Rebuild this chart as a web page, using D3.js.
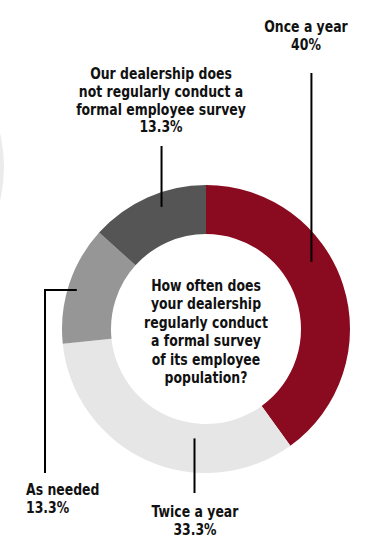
<!DOCTYPE html>
<html lang="en">
<head>
<meta charset="UTF-8">
<title>Employee survey frequency</title>
<script src="https://cdn.jsdelivr.net/npm/d3@7"></script>
<style>
  html, body { margin: 0; padding: 0; background: #fff; }
  svg text {
    font-family: "DejaVu Sans Condensed", "DejaVu Sans", sans-serif;
    font-weight: bold;
    fill: #111;
  }
</style>
</head>
<body>
<svg id="chart"></svg>
<script>
// data
const categories = ['Once a year', 'Twice a year', 'As needed', 'Our dealership does not regularly conduct a formal employee survey'];
const values = [40, 33.3, 13.3, 13.3];
const valueLabels = ['40%', '33.3%', '13.3%', '13.3%'];
const labelLines = [
  ['Once a year'],
  ['Twice a year'],
  ['As needed'],
  ['Our dealership does', 'not regularly conduct a', 'formal employee survey']
];
const question = ['How often does', 'your dealership', 'regularly conduct', 'a formal survey', 'of its employee', 'population?'];

const colors = ['#8a0b20', '#e6e6e6', '#969696', '#555555'];

const W = 375, H = 550;
const cx = 206, cy = 329;
const outerR = 144, innerR = 95;
const squeeze = 0.84;   // condensed look for the labels

const svg = d3.select('#chart').attr('width', W).attr('height', H);

// faint decorative circle edge on the left
svg.append('circle')
  .attr('cx', -142).attr('cy', 167).attr('r', 146)
  .attr('fill', '#ebebeb');

const g = svg.append('g').attr('transform', `translate(${cx},${cy})`);

const pie = d3.pie().sort(null).value(d => d)(values);
const arc = d3.arc().innerRadius(innerR).outerRadius(outerR);

g.selectAll('path.slice')
  .data(pie)
  .enter().append('path')
  .attr('class', 'slice')
  .attr('d', arc)
  .attr('fill', (d, i) => colors[i]);

function block(parent, x, y, lines, anchor, lh) {
  const t = parent.append('text')
    .attr('transform', `translate(${x},${y}) scale(${squeeze},1)`)
    .attr('text-anchor', anchor)
    .style('font-size', '16.5px');
  t.selectAll('tspan')
    .data(lines)
    .enter().append('tspan')
    .attr('x', 0)
    .attr('y', (d, i) => i * lh)
    .text(d => d);
}

// centre question
block(g, 0, -38, question, 'middle', 18.4);

// leader lines
const polar = (deg, r) => [r * Math.sin(deg * Math.PI / 180), -r * Math.cos(deg * Math.PI / 180)];
const leaders = [
  { ang: 57.5, r: 125, to: p => [[p[0], p[1]], [p[0], -256]] },
  { ang: 186, r: 110, to: p => [[p[0], p[1]], [p[0], 164]] },
  { ang: 286.8, r: 135, to: p => [[p[0], p[1]], [-161, p[1]], [-161, 144]] },
  { ang: 340, r: 130, to: p => [[p[0], p[1]], [p[0], -183]] }
];
const line = d3.line();
g.selectAll('path.leader')
  .data(leaders)
  .enter().append('path')
  .attr('class', 'leader')
  .attr('d', d => line(d.to(polar(d.ang, d.r))))
  .attr('fill', 'none')
  .attr('stroke', '#000')
  .attr('stroke-width', 2);

// outer labels
const labelPos = [
  { x: 306, y: 32, anchor: 'middle' },
  { x: 195, y: 517, anchor: 'middle' },
  { x: 26, y: 495, anchor: 'start' },
  { x: 161, y: 79, anchor: 'middle' }
];
labelLines.forEach((lines, i) => {
  const p = labelPos[i];
  block(svg, p.x, p.y, lines.concat([valueLabels[i]]), p.anchor, 17.8);
});
</script>
</body>
</html>
